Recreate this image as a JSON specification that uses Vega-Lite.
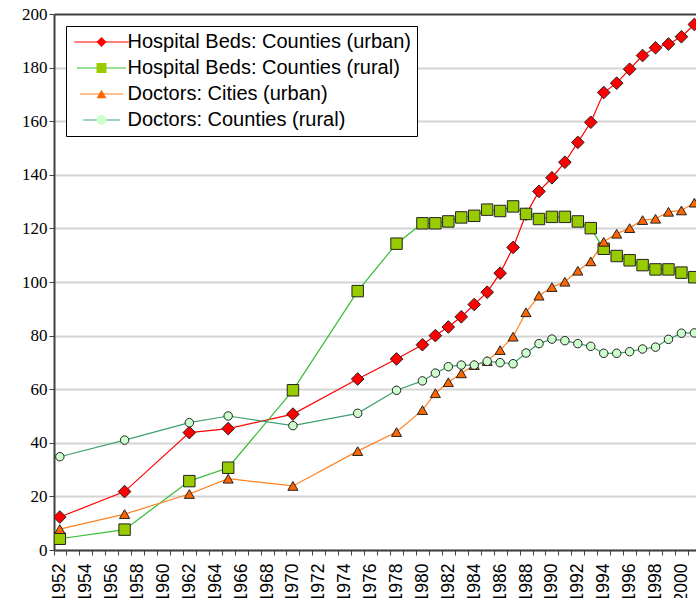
{
  "$schema": "https://vega.github.io/schema/vega-lite/v6.json",
  "width": 642,
  "height": 536,
  "autosize": {"type": "none"},
  "padding": {"left": 54, "top": 14, "right": 0, "bottom": 48},
  "background": "white",
  "config": {"view": {"stroke": null}, "font": "Liberation Sans"},
  "data": {"values": [
    {"year": 1952, "series": "Hospital Beds: Counties (urban)", "value": 12.3},
    {"year": 1957, "series": "Hospital Beds: Counties (urban)", "value": 21.8},
    {"year": 1962, "series": "Hospital Beds: Counties (urban)", "value": 43.8},
    {"year": 1965, "series": "Hospital Beds: Counties (urban)", "value": 45.3},
    {"year": 1970, "series": "Hospital Beds: Counties (urban)", "value": 50.7},
    {"year": 1975, "series": "Hospital Beds: Counties (urban)", "value": 63.8},
    {"year": 1978, "series": "Hospital Beds: Counties (urban)", "value": 71.3},
    {"year": 1980, "series": "Hospital Beds: Counties (urban)", "value": 76.6},
    {"year": 1981, "series": "Hospital Beds: Counties (urban)", "value": 80.0},
    {"year": 1982, "series": "Hospital Beds: Counties (urban)", "value": 83.2},
    {"year": 1983, "series": "Hospital Beds: Counties (urban)", "value": 87.0},
    {"year": 1984, "series": "Hospital Beds: Counties (urban)", "value": 91.6},
    {"year": 1985, "series": "Hospital Beds: Counties (urban)", "value": 96.2},
    {"year": 1986, "series": "Hospital Beds: Counties (urban)", "value": 103.3},
    {"year": 1987, "series": "Hospital Beds: Counties (urban)", "value": 112.9},
    {"year": 1988, "series": "Hospital Beds: Counties (urban)", "value": 125.3},
    {"year": 1989, "series": "Hospital Beds: Counties (urban)", "value": 133.8},
    {"year": 1990, "series": "Hospital Beds: Counties (urban)", "value": 138.9},
    {"year": 1991, "series": "Hospital Beds: Counties (urban)", "value": 144.7},
    {"year": 1992, "series": "Hospital Beds: Counties (urban)", "value": 152.1},
    {"year": 1993, "series": "Hospital Beds: Counties (urban)", "value": 159.6},
    {"year": 1994, "series": "Hospital Beds: Counties (urban)", "value": 170.7},
    {"year": 1995, "series": "Hospital Beds: Counties (urban)", "value": 174.2},
    {"year": 1996, "series": "Hospital Beds: Counties (urban)", "value": 179.4},
    {"year": 1997, "series": "Hospital Beds: Counties (urban)", "value": 184.5},
    {"year": 1998, "series": "Hospital Beds: Counties (urban)", "value": 187.4},
    {"year": 1999, "series": "Hospital Beds: Counties (urban)", "value": 188.8},
    {"year": 2000, "series": "Hospital Beds: Counties (urban)", "value": 191.5},
    {"year": 2001, "series": "Hospital Beds: Counties (urban)", "value": 196.1},
    {"year": 1952, "series": "Hospital Beds: Counties (rural)", "value": 4.2},
    {"year": 1957, "series": "Hospital Beds: Counties (rural)", "value": 7.6},
    {"year": 1962, "series": "Hospital Beds: Counties (rural)", "value": 25.7},
    {"year": 1965, "series": "Hospital Beds: Counties (rural)", "value": 30.7},
    {"year": 1970, "series": "Hospital Beds: Counties (rural)", "value": 59.6},
    {"year": 1975, "series": "Hospital Beds: Counties (rural)", "value": 96.6},
    {"year": 1978, "series": "Hospital Beds: Counties (rural)", "value": 114.3},
    {"year": 1980, "series": "Hospital Beds: Counties (rural)", "value": 121.9},
    {"year": 1981, "series": "Hospital Beds: Counties (rural)", "value": 121.9},
    {"year": 1982, "series": "Hospital Beds: Counties (rural)", "value": 122.6},
    {"year": 1983, "series": "Hospital Beds: Counties (rural)", "value": 124.1},
    {"year": 1984, "series": "Hospital Beds: Counties (rural)", "value": 124.7},
    {"year": 1985, "series": "Hospital Beds: Counties (rural)", "value": 127.0},
    {"year": 1986, "series": "Hospital Beds: Counties (rural)", "value": 126.5},
    {"year": 1987, "series": "Hospital Beds: Counties (rural)", "value": 128.2},
    {"year": 1988, "series": "Hospital Beds: Counties (rural)", "value": 125.4},
    {"year": 1989, "series": "Hospital Beds: Counties (rural)", "value": 123.5},
    {"year": 1990, "series": "Hospital Beds: Counties (rural)", "value": 124.3},
    {"year": 1991, "series": "Hospital Beds: Counties (rural)", "value": 124.3},
    {"year": 1992, "series": "Hospital Beds: Counties (rural)", "value": 122.6},
    {"year": 1993, "series": "Hospital Beds: Counties (rural)", "value": 120.1},
    {"year": 1994, "series": "Hospital Beds: Counties (rural)", "value": 112.4},
    {"year": 1995, "series": "Hospital Beds: Counties (rural)", "value": 109.7},
    {"year": 1996, "series": "Hospital Beds: Counties (rural)", "value": 108.1},
    {"year": 1997, "series": "Hospital Beds: Counties (rural)", "value": 106.3},
    {"year": 1998, "series": "Hospital Beds: Counties (rural)", "value": 104.7},
    {"year": 1999, "series": "Hospital Beds: Counties (rural)", "value": 104.7},
    {"year": 2000, "series": "Hospital Beds: Counties (rural)", "value": 103.5},
    {"year": 2001, "series": "Hospital Beds: Counties (rural)", "value": 101.8},
    {"year": 1952, "series": "Doctors: Cities (urban)", "value": 7.8},
    {"year": 1957, "series": "Doctors: Cities (urban)", "value": 13.4},
    {"year": 1962, "series": "Doctors: Cities (urban)", "value": 20.9},
    {"year": 1965, "series": "Doctors: Cities (urban)", "value": 26.6},
    {"year": 1970, "series": "Doctors: Cities (urban)", "value": 23.9},
    {"year": 1975, "series": "Doctors: Cities (urban)", "value": 36.9},
    {"year": 1978, "series": "Doctors: Cities (urban)", "value": 44.0},
    {"year": 1980, "series": "Doctors: Cities (urban)", "value": 52.2},
    {"year": 1981, "series": "Doctors: Cities (urban)", "value": 58.5},
    {"year": 1982, "series": "Doctors: Cities (urban)", "value": 62.6},
    {"year": 1983, "series": "Doctors: Cities (urban)", "value": 65.9},
    {"year": 1984, "series": "Doctors: Cities (urban)", "value": 69.0},
    {"year": 1985, "series": "Doctors: Cities (urban)", "value": 70.5},
    {"year": 1986, "series": "Doctors: Cities (urban)", "value": 74.6},
    {"year": 1987, "series": "Doctors: Cities (urban)", "value": 79.6},
    {"year": 1988, "series": "Doctors: Cities (urban)", "value": 88.7},
    {"year": 1989, "series": "Doctors: Cities (urban)", "value": 94.9},
    {"year": 1990, "series": "Doctors: Cities (urban)", "value": 98.1},
    {"year": 1991, "series": "Doctors: Cities (urban)", "value": 100.1},
    {"year": 1992, "series": "Doctors: Cities (urban)", "value": 104.2},
    {"year": 1993, "series": "Doctors: Cities (urban)", "value": 107.7},
    {"year": 1994, "series": "Doctors: Cities (urban)", "value": 115.0},
    {"year": 1995, "series": "Doctors: Cities (urban)", "value": 118.0},
    {"year": 1996, "series": "Doctors: Cities (urban)", "value": 120.1},
    {"year": 1997, "series": "Doctors: Cities (urban)", "value": 123.1},
    {"year": 1998, "series": "Doctors: Cities (urban)", "value": 123.6},
    {"year": 1999, "series": "Doctors: Cities (urban)", "value": 126.2},
    {"year": 2000, "series": "Doctors: Cities (urban)", "value": 126.7},
    {"year": 2001, "series": "Doctors: Cities (urban)", "value": 129.6},
    {"year": 1952, "series": "Doctors: Counties (rural)", "value": 34.8},
    {"year": 1957, "series": "Doctors: Counties (rural)", "value": 41.0},
    {"year": 1962, "series": "Doctors: Counties (rural)", "value": 47.5},
    {"year": 1965, "series": "Doctors: Counties (rural)", "value": 50.0},
    {"year": 1970, "series": "Doctors: Counties (rural)", "value": 46.4},
    {"year": 1975, "series": "Doctors: Counties (rural)", "value": 51.0},
    {"year": 1978, "series": "Doctors: Counties (rural)", "value": 59.6},
    {"year": 1980, "series": "Doctors: Counties (rural)", "value": 63.1},
    {"year": 1981, "series": "Doctors: Counties (rural)", "value": 66.0},
    {"year": 1982, "series": "Doctors: Counties (rural)", "value": 68.4},
    {"year": 1983, "series": "Doctors: Counties (rural)", "value": 69.0},
    {"year": 1984, "series": "Doctors: Counties (rural)", "value": 69.0},
    {"year": 1985, "series": "Doctors: Counties (rural)", "value": 70.4},
    {"year": 1986, "series": "Doctors: Counties (rural)", "value": 69.9},
    {"year": 1987, "series": "Doctors: Counties (rural)", "value": 69.5},
    {"year": 1988, "series": "Doctors: Counties (rural)", "value": 73.5},
    {"year": 1989, "series": "Doctors: Counties (rural)", "value": 77.0},
    {"year": 1990, "series": "Doctors: Counties (rural)", "value": 78.7},
    {"year": 1991, "series": "Doctors: Counties (rural)", "value": 78.1},
    {"year": 1992, "series": "Doctors: Counties (rural)", "value": 77.0},
    {"year": 1993, "series": "Doctors: Counties (rural)", "value": 76.0},
    {"year": 1994, "series": "Doctors: Counties (rural)", "value": 73.4},
    {"year": 1995, "series": "Doctors: Counties (rural)", "value": 73.4},
    {"year": 1996, "series": "Doctors: Counties (rural)", "value": 74.0},
    {"year": 1997, "series": "Doctors: Counties (rural)", "value": 75.0},
    {"year": 1998, "series": "Doctors: Counties (rural)", "value": 75.7},
    {"year": 1999, "series": "Doctors: Counties (rural)", "value": 78.6},
    {"year": 2000, "series": "Doctors: Counties (rural)", "value": 80.9},
    {"year": 2001, "series": "Doctors: Counties (rural)", "value": 81.0}
  ]},
  "layer": [
    {
      "mark": {"type": "line", "strokeWidth": 1.2, "clip": true},
      "encoding": {
        "x": {"field": "year", "type": "quantitative",
          "scale": {"domain": [1951.55, 2001.125], "nice": false, "zero": false},
          "axis": {"orient": "bottom", "title": null, "labels": false, "grid": false,
            "values": [1951.55, 1952.5, 1953.5, 1954.5, 1955.5, 1956.5, 1957.5, 1958.5, 1959.5, 1960.5, 1961.5, 1962.5, 1963.5, 1964.5, 1965.5, 1966.5, 1967.5, 1968.5, 1969.5, 1970.5, 1971.5, 1972.5, 1973.5, 1974.5, 1975.5, 1976.5, 1977.5, 1978.5, 1979.5, 1980.5, 1981.5, 1982.5, 1983.5, 1984.5, 1985.5, 1986.5, 1987.5, 1988.5, 1989.5, 1990.5, 1991.5, 1992.5, 1993.5, 1994.5, 1995.5, 1996.5, 1997.5, 1998.5, 1999.5, 2000.5],
            "tickSize": 5, "tickColor": "#404040", "tickWidth": 1,
            "domainColor": "#404040", "domainWidth": 2}},
        "y": {"field": "value", "type": "quantitative",
          "scale": {"domain": [0, 200], "nice": false},
          "axis": {"orient": "left", "title": null,
            "values": [0, 20, 40, 60, 80, 100, 120, 140, 160, 180, 200],
            "grid": true,
            "gridColor": {"condition": {"test": "datum.value === 200", "value": "#404040"}, "value": "#d4d4d4"},
            "gridWidth": 2,
            "domainColor": "#404040", "domainWidth": 2,
            "tickColor": "#404040", "tickSize": 5, "tickWidth": 1,
            "labelFont": "Liberation Sans Narrow", "labelFontSize": 17, "labelPadding": 2, "labelColor": "black"}},
        "color": {"field": "series", "type": "nominal",
          "scale": {"domain": ["Hospital Beds: Counties (urban)", "Hospital Beds: Counties (rural)", "Doctors: Cities (urban)", "Doctors: Counties (rural)"],
            "range": ["#ff0000", "#33bb33", "#ff8020", "#40a070"]},
          "legend": {"orient": "top-left", "offset": 12, "title": null,
            "symbolType": "M-4.3,0H4.3", "symbolSize": 100, "symbolStrokeWidth": 1.2, "symbolOffset": 19.5,
            "labelFont": "Liberation Sans", "labelFontSize": 20, "labelColor": "black",
            "labelOffset": 16, "labelLimit": 0, "rowPadding": 6, "padding": 6,
            "strokeColor": "black", "fillColor": "white"}}
      }
    },
    {
      "mark": {"type": "point", "filled": true, "stroke": "#222222", "strokeWidth": 1, "opacity": 1, "clip": true},
      "encoding": {
        "x": {"field": "year", "type": "quantitative",
          "scale": {"domain": [1951.55, 2001.125], "nice": false, "zero": false},
          "axis": {"orient": "bottom", "title": null, "ticks": false, "domain": false, "grid": false,
            "values": [1952, 1954, 1956, 1958, 1960, 1962, 1964, 1966, 1968, 1970, 1972, 1974, 1976, 1978, 1980, 1982, 1984, 1986, 1988, 1990, 1992, 1994, 1996, 1998, 2000],
            "format": "d", "labelAngle": -90, "labelFont": "Liberation Sans", "labelFontSize": 17.5,
            "labelPadding": 13, "labelColor": "black", "labelOverlap": false, "labelFlush": false, "labelBound": false}},
        "y": {"field": "value", "type": "quantitative",
          "scale": {"domain": [0, 200], "nice": false},
          "axis": {"orient": "left", "title": null,
            "values": [0, 20, 40, 60, 80, 100, 120, 140, 160, 180, 200],
            "grid": true,
            "gridColor": {"condition": {"test": "datum.value === 200", "value": "#404040"}, "value": "#d4d4d4"},
            "gridWidth": 2,
            "domainColor": "#404040", "domainWidth": 2,
            "tickColor": "#404040", "tickSize": 5, "tickWidth": 1,
            "labelFont": "Liberation Sans Narrow", "labelFontSize": 17, "labelPadding": 2, "labelColor": "black"}},
        "shape": {"field": "series", "type": "nominal",
          "scale": {"domain": ["Hospital Beds: Counties (urban)", "Hospital Beds: Counties (rural)", "Doctors: Cities (urban)", "Doctors: Counties (rural)"],
            "range": ["diamond", "square", "triangle-up", "circle"]},
          "legend": {"orient": "none", "legendX": 37.5, "legendY": 18, "title": null, "padding": 0,
            "labelExpr": "' '",
            "labelFont": "Liberation Sans", "labelFontSize": 20, "labelOpacity": 0, "labelOffset": 5, "rowPadding": 6,
            "symbolStrokeColor": "#222222", "symbolStrokeWidth": 1,
            "encode": {"symbols": {"update": {
              "fill": {"signal": "datum.value === 'Hospital Beds: Counties (urban)' ? '#ff0000' : datum.value === 'Hospital Beds: Counties (rural)' ? '#99cc00' : datum.value === 'Doctors: Cities (urban)' ? '#ff6600' : '#ccffcc'"},
              "size": {"signal": "datum.value === 'Hospital Beds: Counties (urban)' ? 160 : datum.value === 'Hospital Beds: Counties (rural)' ? 72 : datum.value === 'Doctors: Cities (urban)' ? 100 : 64"},
              "opacity": {"value": 1}}}}}},
        "fill": {"field": "series", "type": "nominal",
          "scale": {"domain": ["Hospital Beds: Counties (urban)", "Hospital Beds: Counties (rural)", "Doctors: Cities (urban)", "Doctors: Counties (rural)"],
            "range": ["#ff0000", "#99cc00", "#ff6600", "#ccffcc"]},
          "legend": null},
        "size": {"field": "series", "type": "nominal",
          "scale": {"domain": ["Hospital Beds: Counties (urban)", "Hospital Beds: Counties (rural)", "Doctors: Cities (urban)", "Doctors: Counties (rural)"],
            "range": [160, 72, 100, 64]},
          "legend": null}
      }
    }
  ],
  "resolve": {"axis": {"x": "independent"}}
}
